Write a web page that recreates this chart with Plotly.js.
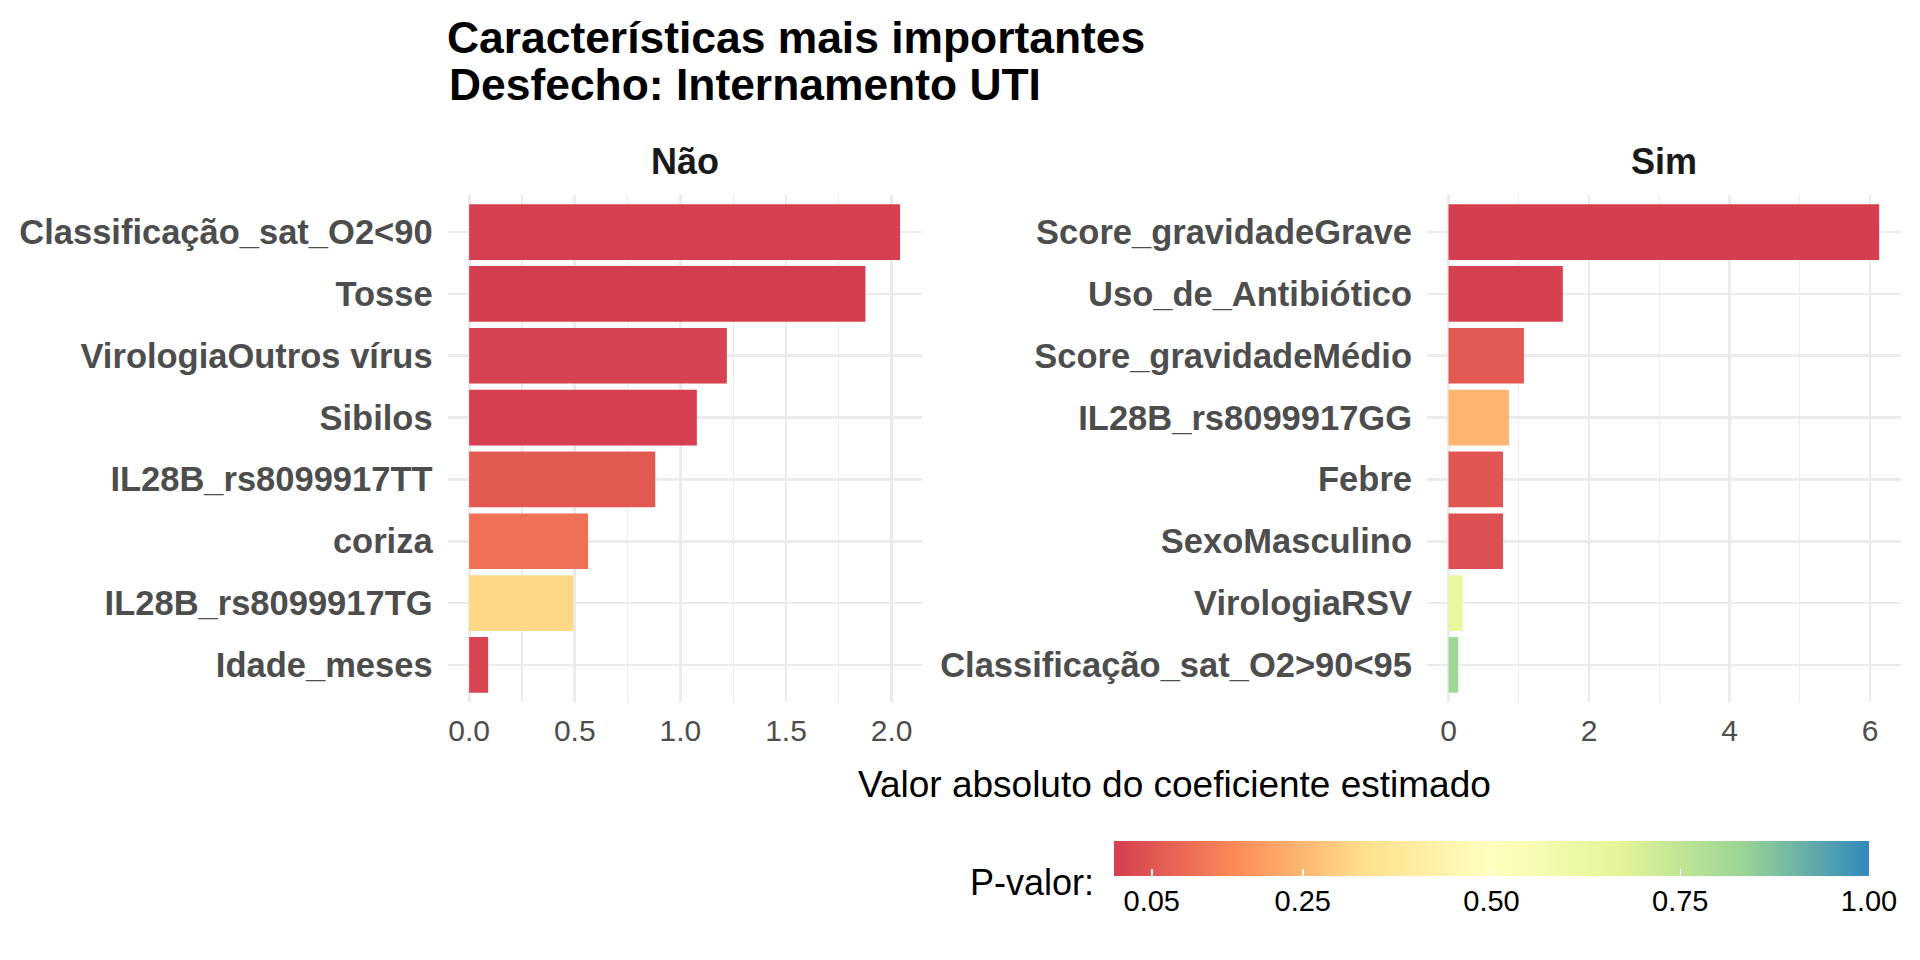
<!DOCTYPE html>
<html>
<head>
<meta charset="utf-8">
<script src="https://cdn.plot.ly/plotly-3.0.1.min.js"></script>
<style>html,body{margin:0;padding:0;background:#fff}#chart{width:1920px;height:960px}</style>
</head>
<body>
<div id="chart"></div>
<script>
// ---- data ----
const naoFeatures = ["Classificação_sat_O2<90","Tosse","VirologiaOutros vírus","Sibilos","IL28B_rs8099917TT","coriza","IL28B_rs8099917TG","Idade_meses"];
const naoCoef = [2.04, 1.876, 1.22, 1.078, 0.881, 0.563, 0.493, 0.09];
const naoPval = [0.002, 0.001, 0.01, 0.003, 0.056, 0.107, 0.317, 0.012];

const simFeatures = ["Score_gravidadeGrave","Uso_de_Antibiótico","Score_gravidadeMédio","IL28B_rs8099917GG","Febre","SexoMasculino","VirologiaRSV","Classificação_sat_O2>90<95"];
const simCoef = [6.13, 1.627, 1.073, 0.86, 0.776, 0.776, 0.203, 0.138];
const simPval = [0.001, 0.004, 0.055, 0.247, 0.05, 0.035, 0.633, 0.823];

const facetLabels = ["Não", "Sim"];
const pTickVals = [0.05, 0.25, 0.5, 0.75, 1.0];
const pTickText = ["0.05", "0.25", "0.50", "0.75", "1.00"];

// ---- styling ----
const W = 1920, H = 960;
const fx = px => px / W;
const fy = px => 1 - px / H;
const FONT = 'Liberation Sans, Arial, Helvetica, sans-serif';
const GRID = '#EBEBEB';
const spectral = [[0,'#D53E4F'],[1/6,'#FC8D59'],[2/6,'#FEE08B'],[0.5,'#FFFFBF'],[4/6,'#E6F598'],[5/6,'#99D594'],[1,'#3288BD']];

const traces = [
  {type:'bar', orientation:'h', x:naoCoef, y:naoFeatures, xaxis:'x', yaxis:'y', width:0.9,
   marker:{color:naoPval, coloraxis:'coloraxis', line:{width:0}}, hoverinfo:'x+y'},
  {type:'bar', orientation:'h', x:simCoef, y:simFeatures, xaxis:'x2', yaxis:'y2', width:0.9,
   marker:{color:simPval, coloraxis:'coloraxis', line:{width:0}}, hoverinfo:'x+y'}
];

function xAxis(domain, range, dtick, minorDtick, fmt, anchor){
  return {domain, anchor, range, tick0:0, dtick, tickformat:fmt, showgrid:true, gridcolor:GRID, gridwidth:2.7,
    zeroline:false, showline:false, ticks:'', automargin:false, fixedrange:true,
    tickfont:{size:30, color:'#4D4D4D', family:FONT}, ticklabelstandoff:8,
    minor:{tick0:0, dtick:minorDtick, showgrid:true, gridcolor:GRID, gridwidth:1.35}};
}
function yAxis(cats, anchor){
  return {domain:[fy(702), fy(195)], anchor, type:'category', categoryorder:'array', categoryarray:cats,
    range:[cats.length - 0.4, -0.6], showgrid:true, gridcolor:GRID, gridwidth:2.7, zeroline:false, showline:false,
    ticks:'', automargin:false, fixedrange:true, ticklabelstandoff:14,
    tickfont:{size:34.5, color:'#4D4D4D', family:FONT, weight:'bold'}};
}

const layout = {
  width:W, height:H,
  margin:{l:0, r:0, t:0, b:0, autoexpand:false},
  paper_bgcolor:'#FFFFFF', plot_bgcolor:'#FFFFFF',
  font:{family:FONT, color:'#000'},
  showlegend:false,
  title:{text:'Características mais importantes', xref:'paper', yref:'paper', x:fx(447), xanchor:'left',
         y:fy(37), yanchor:'middle', font:{size:44.4, weight:'bold', color:'#000', family:FONT}},
  xaxis: xAxis([fx(447.6), fx(921.6)], [-0.102, 2.142], 0.5, 0.25, '.1f', 'y'),
  yaxis: yAxis(naoFeatures, 'x'),
  xaxis2: xAxis([fx(1427), fx(1900.7)], [-0.3065, 6.4365], 2, 1, 'd', 'y2'),
  yaxis2: yAxis(simFeatures, 'x2'),
  coloraxis:{cmin:0, cmax:1, colorscale:spectral,
    colorbar:{orientation:'h', x:fx(1114), xanchor:'left', y:fy(841), yanchor:'top',
      len:755, lenmode:'pixels', thickness:35, thicknessmode:'pixels', xpad:0, ypad:0,
      outlinewidth:0, tickmode:'array', tickvals:pTickVals, ticktext:pTickText,
      ticks:'inside', ticklen:7, tickwidth:1.5, tickcolor:'#FFFFFF',
      tickfont:{size:29, color:'#000', family:FONT}, title:{text:''}}},
  annotations:[
    {text:'Desfecho: Internamento UTI', xref:'paper', yref:'paper', x:fx(447), y:fy(84.2), xanchor:'left', yanchor:'middle',
     showarrow:false, font:{size:44.4, weight:'bold', color:'#000', family:FONT}},
    {text:facetLabels[0], xref:'paper', yref:'paper', x:fx(684.6), y:fy(162), xanchor:'center', yanchor:'middle',
     showarrow:false, font:{size:36, weight:'bold', color:'#1A1A1A', family:FONT}},
    {text:facetLabels[1], xref:'paper', yref:'paper', x:fx(1663.9), y:fy(162), xanchor:'center', yanchor:'middle',
     showarrow:false, font:{size:36, weight:'bold', color:'#1A1A1A', family:FONT}},
    {text:'Valor absoluto do coeficiente estimado', xref:'paper', yref:'paper', x:fx(1174), y:fy(784), xanchor:'center', yanchor:'middle',
     showarrow:false, font:{size:37, color:'#000', family:FONT}},
    {text:'P-valor:', xref:'paper', yref:'paper', x:fx(1096), y:fy(882.5), xanchor:'right', yanchor:'middle',
     showarrow:false, font:{size:36, color:'#000', family:FONT}}
  ]
};

Plotly.newPlot('chart', traces, layout, {staticPlot:true, displayModeBar:false});
</script>
</body>
</html>
